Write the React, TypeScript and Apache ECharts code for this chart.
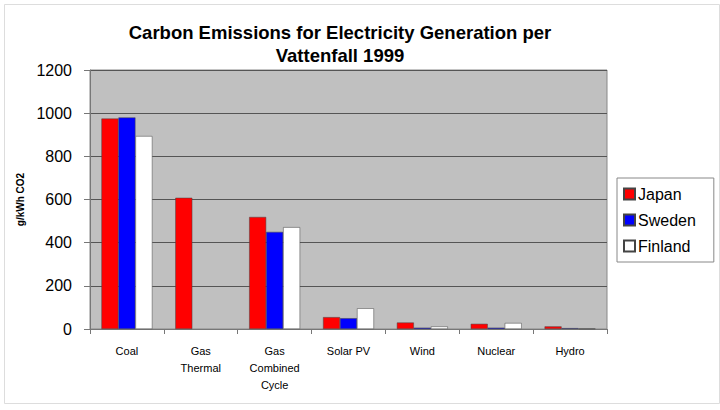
import React, { useEffect, useRef } from 'react';
import * as echarts from 'echarts';

const categories = ['Coal', 'Gas\nThermal', 'Gas\nCombined\nCycle', 'Solar PV', 'Wind', 'Nuclear', 'Hydro'];
const japan = [975, 608, 519, 55, 30, 24, 12];
const sweden = [980, null, 450, 50, 6, 6, 4];
const finland = [894, null, 472, 96, 12, 28, 2];
const yTicks = [0, 200, 400, 600, 800, 1000, 1200];

export default function App() {
    const chartRef = useRef<HTMLDivElement>(null);

    useEffect(() => {
        const chart = echarts.init(chartRef.current!, undefined, { renderer: 'svg' });

        const barStyle = (color: string) => ({
            color,
            borderColor: '#444',
            borderWidth: 0.5,
        });

        chart.setOption({
            animation: false,
            backgroundColor: '#fff',
            textStyle: { fontFamily: 'Liberation Sans, Arial, sans-serif' },
            title: {
                text: 'Carbon Emissions for Electricity Generation per\nVattenfall 1999',
                left: 335,
                textAlign: 'center',
                top: 16,
                textStyle: {
                    color: '#000',
                    fontSize: 18.5,
                    fontWeight: 'bold',
                    lineHeight: 23,
                },
            },
            legend: {
                orient: 'vertical',
                left: 617,
                top: 178,
                width: 96,
                padding: [7, 18, 7, 6],
                itemGap: 8,
                itemWidth: 11,
                itemHeight: 11,
                borderColor: '#888',
                borderWidth: 1,
                backgroundColor: '#fff',
                icon: 'rect',
                textStyle: { fontSize: 16, lineHeight: 18, color: '#000', padding: [0, 0, 0, -2] },
                data: ['Japan', 'Sweden', 'Finland'],
            },
            grid: {
                left: 90,
                right: 113,
                top: 70,
                bottom: 81,
                show: true,
                backgroundColor: '#c0c0c0',
                borderColor: '#888',
                borderWidth: 1,
            },
            xAxis: {
                type: 'category',
                data: categories,
                axisLine: { lineStyle: { color: '#777', width: 1 } },
                axisTick: { show: true, length: 5, lineStyle: { color: '#777' } },
                axisLabel: {
                    color: '#000',
                    fontSize: 11,
                    lineHeight: 17,
                    margin: 13,
                    interval: 0,
                },
            },
            yAxis: {
                type: 'value',
                min: yTicks[0],
                max: yTicks[yTicks.length - 1],
                interval: 200,
                name: 'g/kWh CO2',
                nameLocation: 'middle',
                nameGap: 62,
                nameTextStyle: { fontSize: 10, fontWeight: 'bold', color: '#000' },
                axisLine: { show: true, lineStyle: { color: '#777' } },
                axisTick: { show: true, length: 6, inside: false, lineStyle: { color: '#777' } },
                axisLabel: { color: '#000', fontSize: 16, margin: 18, formatter: (v: number) => String(v) },
                splitLine: { lineStyle: { color: '#555', width: 1 } },
            },
            series: [
                {
                    name: 'Japan',
                    type: 'bar',
                    data: japan,
                    barGap: '0%',
                    barCategoryGap: '31%',
                    itemStyle: barStyle('#ff0000'),
                },
                {
                    name: 'Sweden',
                    type: 'bar',
                    data: sweden,
                    itemStyle: barStyle('#0000ff'),
                },
                {
                    name: 'Finland',
                    type: 'bar',
                    data: finland,
                    itemStyle: barStyle('#ffffff'),
                },
            ],
            graphic: [
                {
                    type: 'rect',
                    left: 2,
                    top: 2,
                    shape: { width: 715, height: 399 },
                    style: { fill: 'none', stroke: '#ddd', lineWidth: 1 },
                    silent: true,
                },
            ],
        });

        return () => {
            chart.dispose();
        };
    }, []);

    return (
        <div
            ref={chartRef}
            style={{ position: 'fixed', left: 0, top: 0, width: 720, height: 410 }}
        />
    );
}
